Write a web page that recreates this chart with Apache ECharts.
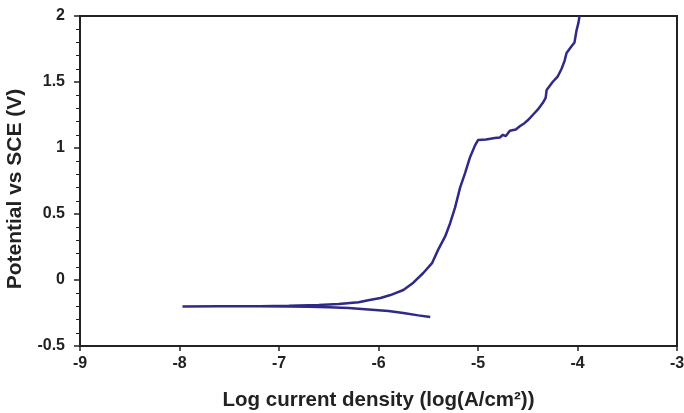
<!DOCTYPE html>
<html>
<head>
<meta charset="utf-8">
<script src="https://cdn.jsdelivr.net/npm/echarts@6/dist/echarts.min.js"></script>
<style>html,body{margin:0;padding:0;background:#fff;}#c{width:684px;height:413px;}</style>
</head>
<body>
<div id="c"></div>
<script>
// Log current density (x) and potential vs SCE (y)
var scanX = [-5.48,-5.6,-5.75,-5.9,-6.1,-6.3,-6.5,-6.7,-6.9,-7.2,-7.6,-7.97,
  -7.6,-7.2,-6.9,-6.6,-6.4,-6.2,-6.09,-5.98,-5.88,-5.75,-5.65,-5.55,-5.46,-5.40,-5.33,-5.28,-5.23,-5.18,-5.13,-5.08,-5.03,-5.0,
  -4.92,-4.83,-4.78,-4.75,-4.72,-4.68,-4.62,-4.58,-4.53,-4.50,-4.45,-4.40,-4.35,-4.32,-4.31,-4.25,-4.20,-4.16,-4.13,-4.11,-4.06,-4.03,-4.01,-3.99,-3.98];
var scanY = [-0.280,-0.268,-0.250,-0.235,-0.224,-0.213,-0.206,-0.202,-0.200,-0.199,-0.199,-0.200,
  -0.199,-0.198,-0.196,-0.190,-0.182,-0.168,-0.152,-0.136,-0.114,-0.076,-0.02,0.053,0.13,0.23,0.33,0.43,0.55,0.70,0.81,0.93,1.02,1.06,
  1.065,1.075,1.08,1.10,1.09,1.13,1.14,1.165,1.19,1.21,1.25,1.29,1.34,1.38,1.44,1.50,1.54,1.60,1.66,1.72,1.77,1.80,1.89,1.95,2.0];
var xTicks = [-9,-8,-7,-6,-5,-4,-3];
var yTicks = [-0.5,0,0.5,1,1.5,2];
var xTitle = 'Log current density (log(A/cm²))';
var yTitle = 'Potential vs SCE (V)';

var pts = scanX.map(function(x,i){return [x, scanY[i]];});
var font = 'Liberation Sans';
var chart = echarts.init(document.getElementById('c'), null, {renderer:'canvas'});
chart.setOption({
  animation:false,
  grid:{left:80,right:7,top:16,bottom:67,outerBoundsMode:'none',containLabel:false,
    show:true,borderColor:'#222',borderWidth:2,backgroundColor:'transparent'},
  xAxis:{type:'value',min:xTicks[0],max:xTicks[xTicks.length-1],interval:1,
    name:xTitle,nameLocation:'middle',nameGap:44,
    nameTextStyle:{fontFamily:font,fontWeight:'bold',fontSize:20.5,color:'#222'},
    axisLine:{show:true,onZero:false,lineStyle:{color:'#222',width:2}},
    axisTick:{show:true,inside:false,length:5,lineStyle:{color:'#222',width:1.5}},
    axisLabel:{margin:10,fontFamily:font,fontWeight:'bold',fontSize:16,color:'#222'},
    splitLine:{show:false}},
  yAxis:{type:'value',min:yTicks[0],max:yTicks[yTicks.length-1],interval:0.5,
    name:yTitle,nameLocation:'middle',nameGap:54,nameRotate:90,
    nameTextStyle:{fontFamily:font,fontWeight:'bold',fontSize:21,color:'#222',padding:[0,16,0,0]},
    axisLine:{show:true,onZero:false,lineStyle:{color:'#222',width:2}},
    axisTick:{show:true,inside:false,length:6,lineStyle:{color:'#222',width:1.5}},
    minorTick:{show:true,splitNumber:5,length:4,lineStyle:{color:'#222',width:1}},
    axisLabel:{margin:15,fontFamily:font,fontWeight:'bold',fontSize:16,color:'#222'},
    splitLine:{show:false}},
  series:[{type:'line',data:pts,showSymbol:false,smooth:false,
    lineStyle:{color:'#2e2a86',width:2.5},clip:true}]
});
</script>
</body>
</html>
